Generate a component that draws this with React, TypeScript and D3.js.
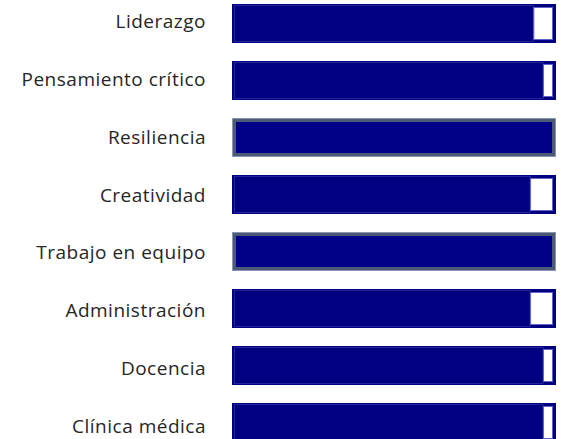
import React from "react";
import * as d3 from "d3";

const categories = [
  "Liderazgo",
  "Pensamiento crítico",
  "Resiliencia",
  "Creatividad",
  "Trabajo en equipo",
  "Administración",
  "Docencia",
  "Clínica médica",
];
const values = [93, 96, 100, 92, 100, 92, 96, 96];

const W = 561;
const H = 439;

export default function App() {
  const x = d3.scaleLinear().domain([0, 100]).range([232, 556]);
  const y = d3
    .scaleBand<string>()
    .domain(categories)
    .range([4, 4 + 57 * categories.length - 18])
    .paddingInner(18 / 57)
    .paddingOuter(0)
    .align(0);
  const yLabel = d3.scalePoint<string>().domain(categories).range([21, 426]);
  const bh = y.bandwidth();

  return (
    <svg
      width={W}
      height={H}
      style={{ position: "absolute", left: 0, top: 0, background: "#fff" }}
      fontFamily="'Open Sans', sans-serif"
    >
      {categories.map((c, i) => {
        const y0 = y(c) as number;
        const v = values[i];
        const x0 = x(0);
        const x1 = x(100);
        const xv = x(v);
        const full = v >= 100;
        return (
          <g key={c}>
            <text
              x={206}
              y={yLabel(c) as number}
              textAnchor="end"
              dominantBaseline="central"
              fontSize={19}
              letterSpacing={0.5}
              fill="#262626"
            >
              {c}
            </text>
            {full ? (
              <g>
                <rect x={x0} y={y0} width={x1 - x0} height={bh} fill="#8a96ad" />
                <rect x={x0 + 1} y={y0 + 1} width={x1 - x0 - 2} height={bh - 2} fill="#4b5a78" />
                <rect x={x0 + 4} y={y0 + 4} width={x1 - x0 - 8} height={bh - 8} fill="#000088" />
              </g>
            ) : (
              <g>
                <rect x={x0} y={y0} width={x1 - x0} height={bh} fill="#000080" />
                <rect
                  x={x0 + 2.5}
                  y={y0 + 1.5}
                  width={xv - x0 - 2.5}
                  height={bh - 3}
                  fill="#000080"
                  stroke="#23239a"
                  strokeWidth={1}
                />
                <rect
                  x={xv + 0.5}
                  y={y0 + 3.5}
                  width={x1 - xv - 4}
                  height={bh - 7}
                  fill="#ffffff"
                  stroke="#6464c4"
                  strokeWidth={1}
                />
              </g>
            )}
          </g>
        );
      })}
    </svg>
  );
}
